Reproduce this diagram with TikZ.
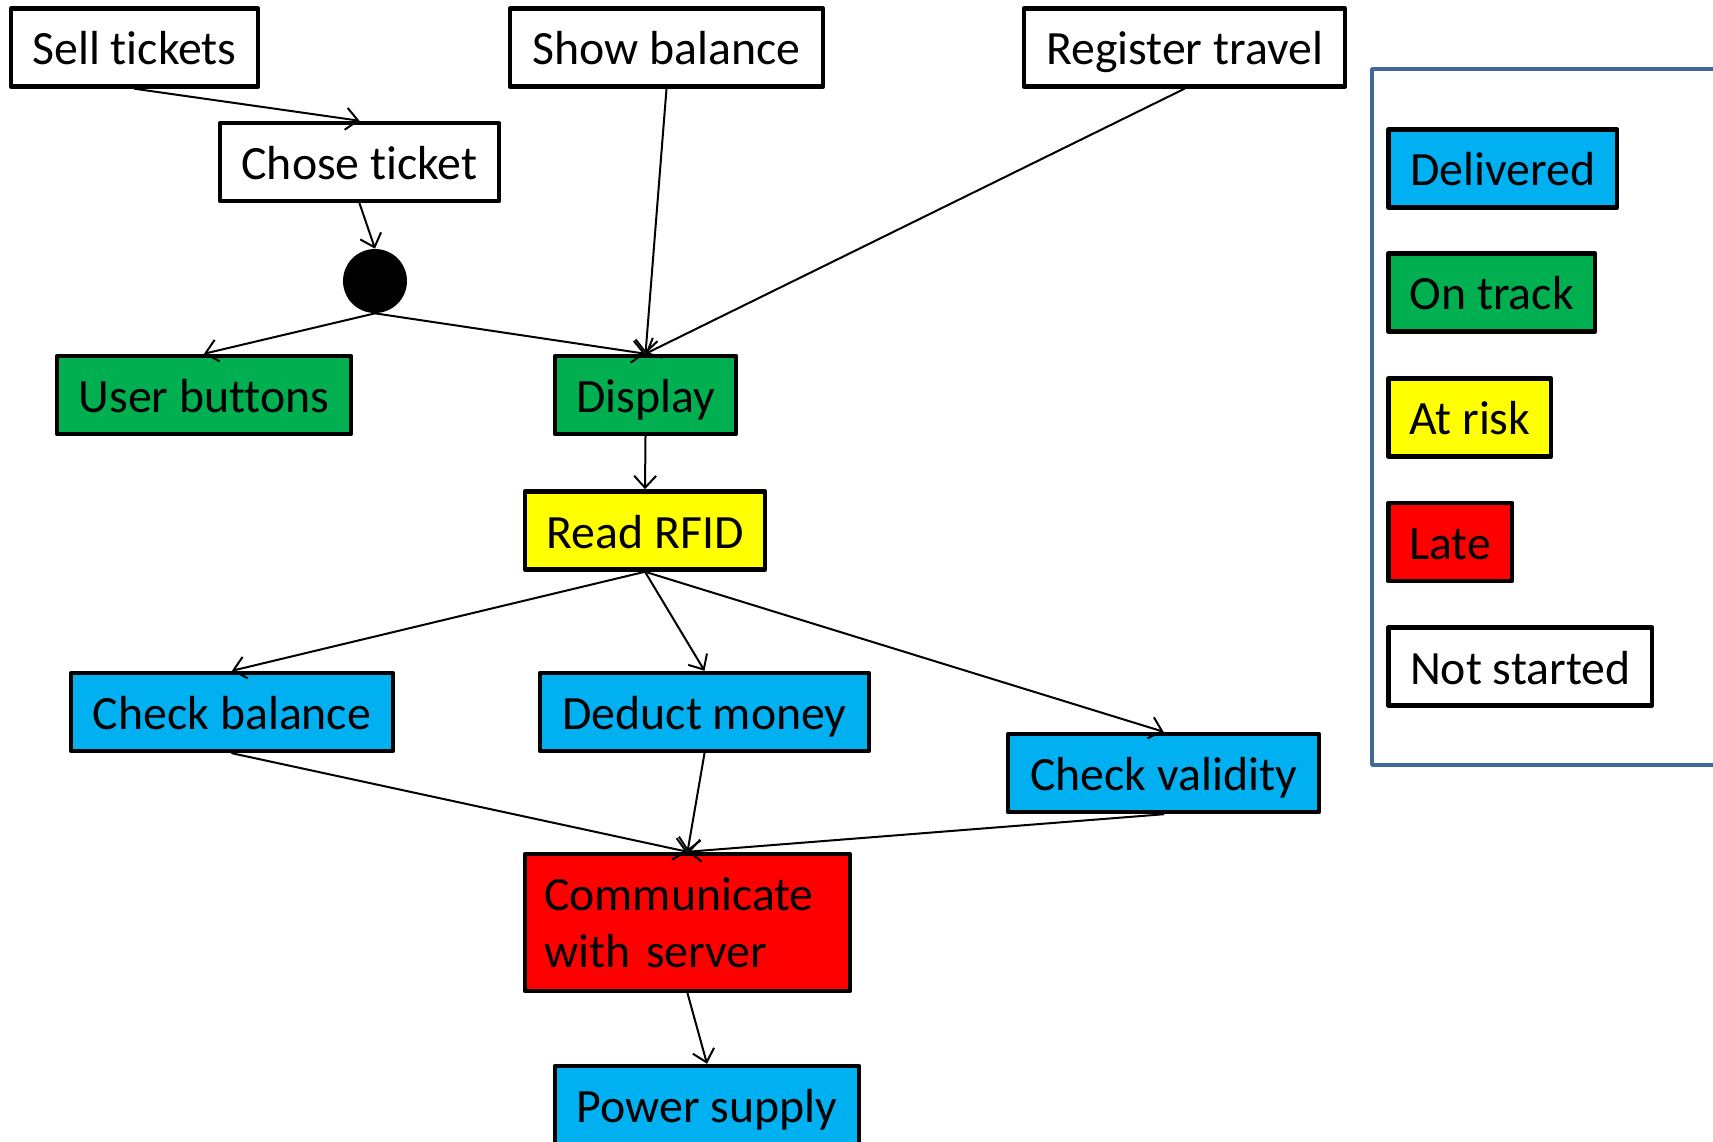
\documentclass[tikz,border=0pt]{standalone}
\usepackage{fontspec}
\setmainfont[Ligatures=NoCommon]{Carlito}
\usetikzlibrary{arrows.meta}
\definecolor{delivered}{RGB}{0,176,240}
\definecolor{ontrack}{RGB}{0,176,80}
\definecolor{atrisk}{RGB}{255,255,0}
\definecolor{late}{RGB}{255,0,0}
\definecolor{frameblue}{RGB}{65,104,150}
\tikzset{
	task/.style={draw, line width=0.09cm, inner sep=0pt, minimum height=1.56cm, text height=0.78cm, text depth=0.08cm, font=\fontsize{27.2}{32.6}\selectfont},
	link/.style={->, line width=0.04cm}
}
\begin{document}
\begin{tikzpicture}[line join = round, line cap = round, >={Straight Barb[length=0.24cm,width=0.44cm]}, x = 0.02cm, y = -0.02cm]
			\clip (0,0) rectangle (1713,1142);
			%Các khối trên cùng
			\node[task, minimum width=4.94cm] (sell) at (134.5,47.5) {Sell tickets};
			\node[task, minimum width=6.26cm] (show) at (666.5,47.5) {Show balance};
			\node[task, minimum width=6.42cm] (register) at (1184.5,47.5) {Register travel};
			\node[task, minimum width=5.58cm] (chose) at (359.5,162) {Chose ticket};
			\node[circle, fill=black, inner sep=0pt, minimum size=1.28cm] (dot) at (375,281) {};
			%Các khối giữa
			\node[task, fill=ontrack, minimum width=5.88cm] (user) at (204,395) {User buttons};
			\node[task, fill=ontrack, minimum width=3.62cm] (display) at (645.5,395) {Display};
			\node[task, fill=atrisk, minimum width=4.80cm] (rfid) at (645,530.5) {Read RFID};
			\node[task, fill=delivered, minimum width=6.44cm] (checkbal) at (232,712) {Check balance};
			\node[task, fill=delivered, minimum width=6.58cm] (deduct) at (704.5,712) {Deduct money};
			\node[task, fill=delivered, minimum width=6.22cm] (validity) at (1163.5,773) {Check validity};
			\node[task, fill=late, text height=, text depth=, minimum height=2.74cm, text width=5.74cm, inner xsep=0.38cm, align=left] (comm) at (687.5,922.5) {Communicate\\with server};
			\node[task, fill=delivered, minimum width=6.08cm] (power) at (707,1105) {Power supply};
			%Các mũi tên
			\draw[link] (sell.south) -- (chose.north);
			\draw[link] (chose.south) -- (dot.north);
			\draw[link] (dot.south) -- (user.north);
			\draw[link] (dot.south) -- (display.north);
			\draw[link] (show.south) -- (display.north);
			\draw[link] (register.south) -- (display.north);
			\draw[link] (display.south) -- (rfid.north);
			\foreach \t in {checkbal,deduct,validity} \draw[link] (rfid.south) -- (\t.north);
			\foreach \s in {checkbal,deduct,validity} \draw[link] (\s.south) -- (comm.north);
			\draw[link] (comm.south) -- (power.north);
			%Chú thích
			\draw[frameblue, line width=0.07cm] (1372,69) rectangle (1760,765);
			\node[task, fill=delivered, anchor=west, minimum width=4.58cm] (kdelivered) at (1386,168.5) {Delivered};
			\node[task, fill=ontrack, anchor=west, minimum width=4.14cm] (kontrack) at (1386,292.5) {On track};
			\node[task, fill=atrisk, anchor=west, minimum width=3.26cm] (katrisk) at (1386,417.5) {At risk};
			\node[task, fill=late, anchor=west, minimum width=2.48cm] (klate) at (1386,542) {Late};
			\node[task, anchor=west, minimum width=5.28cm] (knotstarted) at (1386,666.5) {Not started};
		\end{tikzpicture}
\end{document}
